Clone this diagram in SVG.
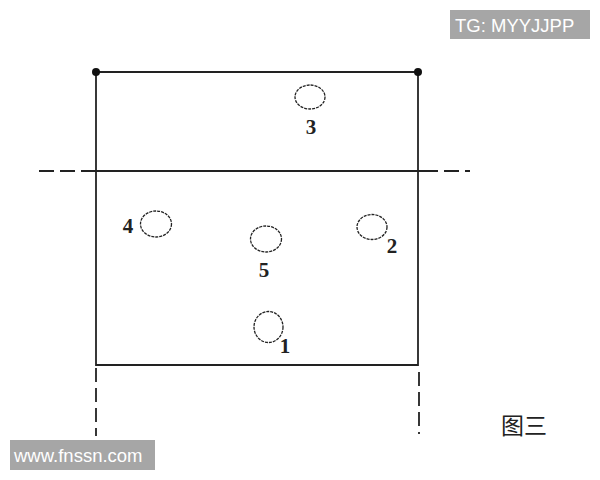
<svg xmlns="http://www.w3.org/2000/svg" width="600" height="480" viewBox="0 0 600 480">
<style>
.ln{stroke:#222;stroke-width:1.8;fill:none}
.dl{stroke:#222;stroke-width:1.8;fill:none;stroke-dasharray:15 6}
.dv{stroke:#222;stroke-width:1.8;fill:none;stroke-dasharray:14 6}
.hole{fill:none;stroke:#222;stroke-width:1.3;stroke-dasharray:3 1}
.num{font-family:"Liberation Serif",serif;font-weight:bold;font-size:21px;fill:#222}
.wm{font-family:"Liberation Sans",Arial,sans-serif;font-size:18.5px;fill:#fff}
</style>
<rect width="600" height="480" fill="#fff"/>
<g id="connectors">
<line class="ln" x1="96" y1="72" x2="418" y2="72"/>
<line class="ln" x1="96" y1="72" x2="96" y2="366"/>
<line class="ln" x1="418" y1="72" x2="418" y2="366"/>
<line class="ln" x1="96" y1="365" x2="418" y2="365"/>
<line class="ln" x1="96" y1="171" x2="418" y2="171"/>
<line class="dl" x1="39" y1="171" x2="96" y2="171"/>
<line class="dl" x1="418" y1="171" x2="476" y2="171" style="stroke-dasharray:20 6 15 6 5"/>
<line class="dv" x1="96" y1="368" x2="96" y2="436"/>
<line class="dv" x1="419" y1="372" x2="419" y2="434"/>
<circle cx="96" cy="72" r="4" fill="#111"/>
<circle cx="418" cy="72" r="4" fill="#111"/>
</g>
<g id="hole3"><ellipse class="hole" cx="310" cy="97" rx="15" ry="12"/><text class="num" x="311" y="134" text-anchor="middle">3</text></g>
<g id="hole4"><ellipse class="hole" cx="156" cy="224" rx="15.5" ry="13"/><text class="num" x="128" y="233" text-anchor="middle">4</text></g>
<g id="hole5"><ellipse class="hole" cx="266" cy="239" rx="15.5" ry="13"/><text class="num" x="264" y="277" text-anchor="middle">5</text></g>
<g id="hole2"><ellipse class="hole" cx="372" cy="227" rx="15" ry="12.5"/><text class="num" x="392" y="253" text-anchor="middle">2</text></g>
<g id="hole1"><ellipse class="hole" cx="268.5" cy="327" rx="14.5" ry="15.5"/><text class="num" x="285" y="353" text-anchor="middle">1</text></g>
<g id="caption"><text x="501" y="434" font-family="'Noto Sans CJK SC',sans-serif" font-size="23" fill="#222">图三</text></g>
<g id="wm-tg"><rect x="450" y="10" width="140" height="29" fill="#a6a6a6"/><text class="wm" x="455" y="32">TG: MYYJJPP</text></g>
<g id="wm-site"><rect x="10" y="440" width="145" height="30" fill="#a6a6a6"/><text class="wm" x="14" y="462">www.fnssn.com</text></g>
</svg>
